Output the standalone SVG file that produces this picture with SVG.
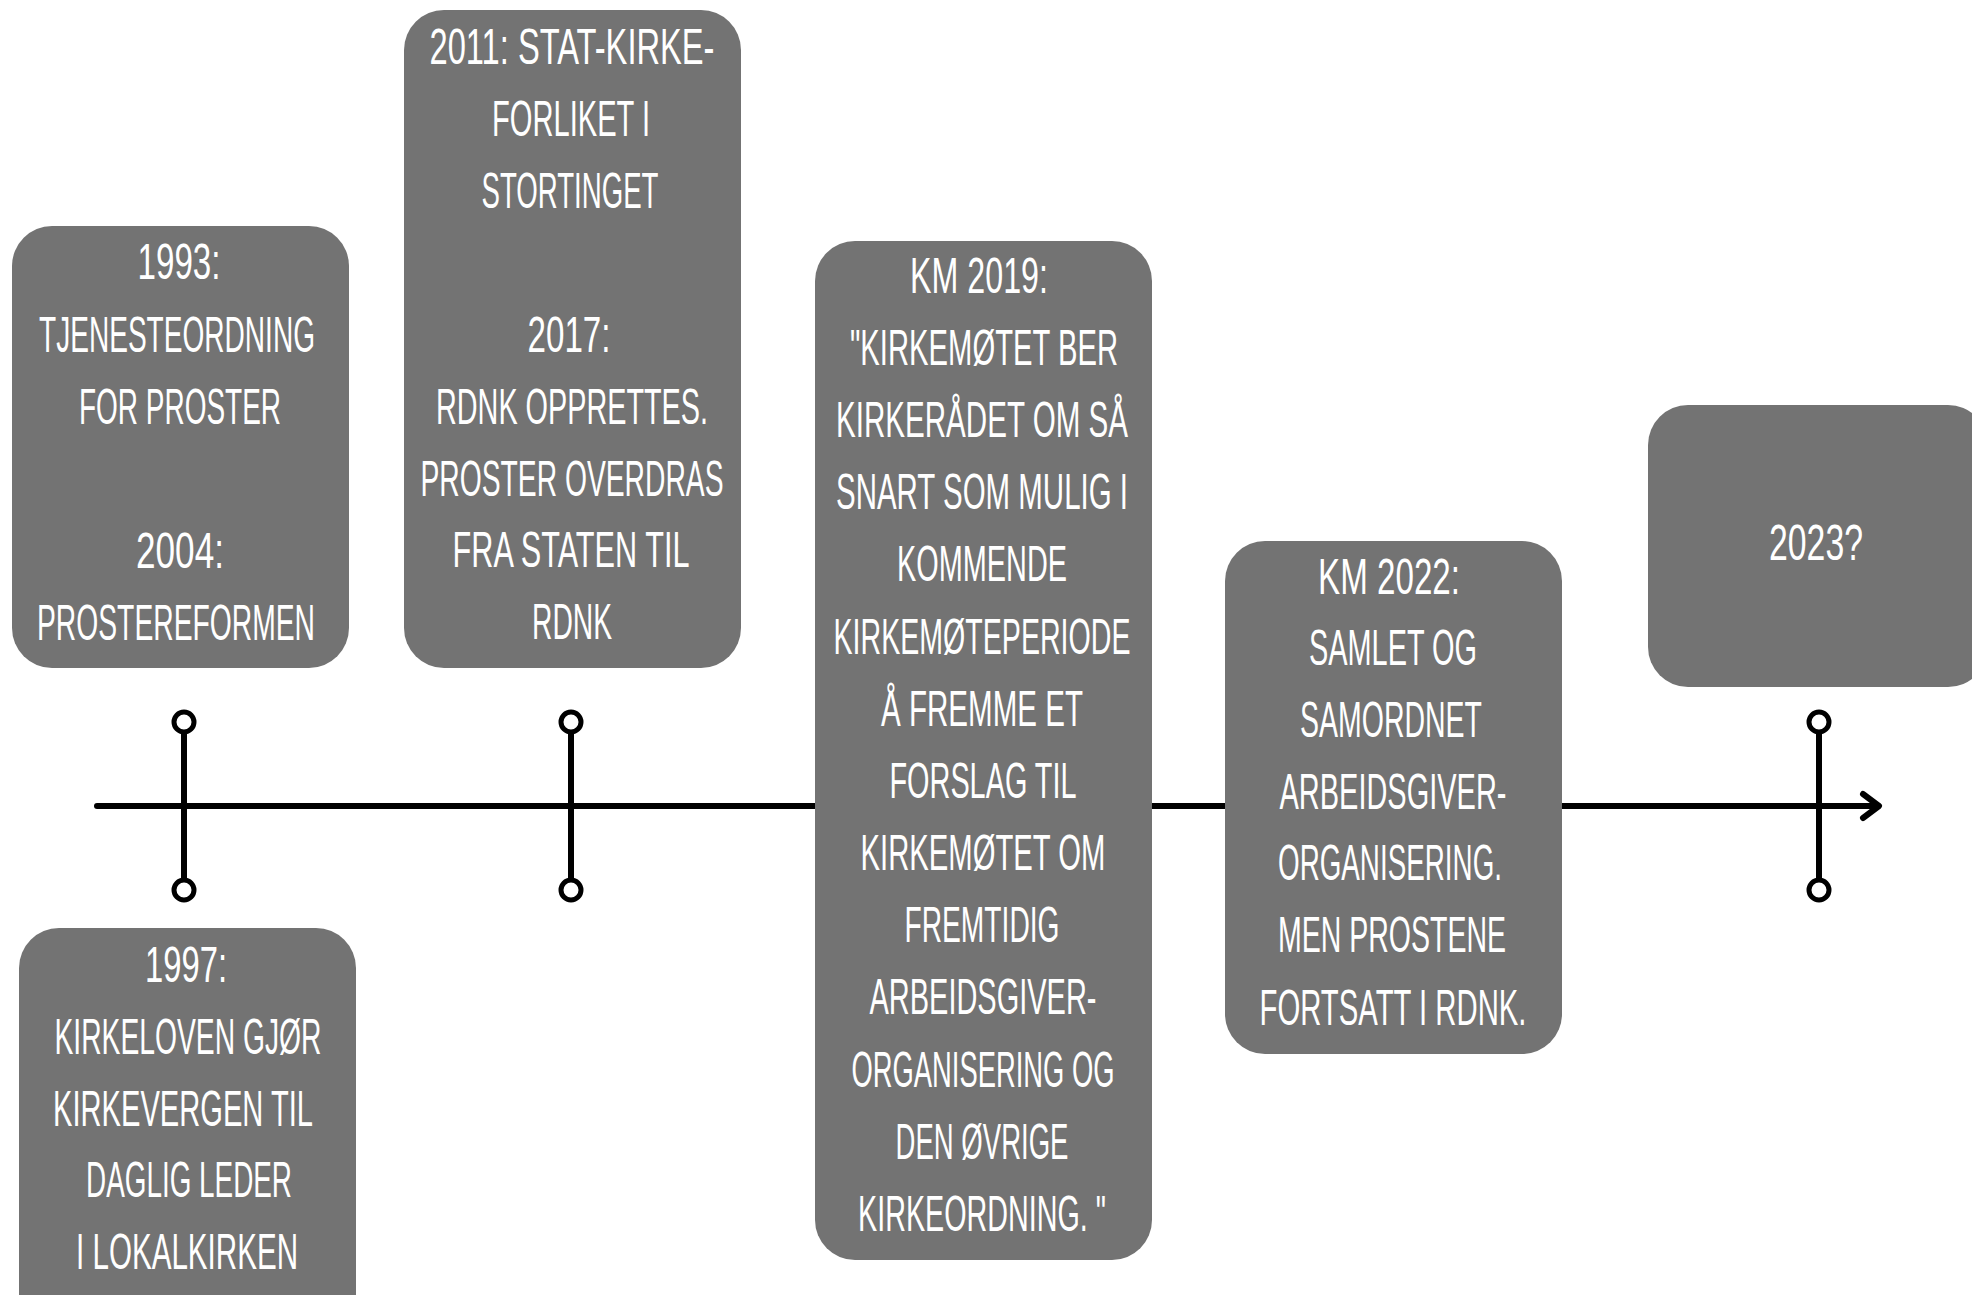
<svg xmlns="http://www.w3.org/2000/svg" width="1972" height="1295" viewBox="0 0 1972 1295">
<style>
  .box { fill: #737373; }
  .t { font-family: "Liberation Sans", Arial, sans-serif; font-size: 50px; fill: #ffffff; text-anchor: middle; }
  .ln { stroke: #000; stroke-width: 6; fill: none; stroke-linecap: round; stroke-linejoin: round; }
  .dot { stroke: #000; stroke-width: 5; fill: #fff; }
</style>
<rect width="1972" height="1295" fill="#ffffff"/>
<g id="connectors">
  <line class="ln" x1="97" y1="806" x2="1878" y2="806"/>
  <polyline class="ln" points="1863,794 1879,806 1863,818"/>
  <line class="ln" x1="184" y1="722" x2="184" y2="890"/>
  <circle class="dot" cx="184" cy="722" r="10"/>
  <circle class="dot" cx="184" cy="890" r="10"/>
  <line class="ln" x1="571" y1="722" x2="571" y2="890"/>
  <circle class="dot" cx="571" cy="722" r="10"/>
  <circle class="dot" cx="571" cy="890" r="10"/>
  <line class="ln" x1="1819" y1="722" x2="1819" y2="890"/>
  <circle class="dot" cx="1819" cy="722" r="10"/>
  <circle class="dot" cx="1819" cy="890" r="10"/>
</g>
<g id="node-1993">
  <rect class="box" x="12" y="226" width="337" height="442" rx="40"/>
  <text class="t" x="179" y="279" textLength="83" lengthAdjust="spacingAndGlyphs">1993:</text>
  <text class="t" x="177" y="352" textLength="276" lengthAdjust="spacingAndGlyphs">TJENESTEORDNING</text>
  <text class="t" x="180" y="424" textLength="202" lengthAdjust="spacingAndGlyphs">FOR PROSTER</text>
  <text class="t" x="180" y="568" textLength="88" lengthAdjust="spacingAndGlyphs">2004:</text>
  <text class="t" x="176" y="640" textLength="278" lengthAdjust="spacingAndGlyphs">PROSTEREFORMEN</text>
</g>
<g id="node-2011">
  <rect class="box" x="404" y="10" width="337" height="658" rx="40"/>
  <text class="t" x="572" y="64" textLength="285" lengthAdjust="spacingAndGlyphs">2011: STAT-KIRKE-</text>
  <text class="t" x="571" y="136" textLength="158" lengthAdjust="spacingAndGlyphs">FORLIKET I</text>
  <text class="t" x="570" y="208" textLength="177" lengthAdjust="spacingAndGlyphs">STORTINGET</text>
  <text class="t" x="569" y="352" textLength="83" lengthAdjust="spacingAndGlyphs">2017:</text>
  <text class="t" x="572" y="424" textLength="272" lengthAdjust="spacingAndGlyphs">RDNK OPPRETTES.</text>
  <text class="t" x="572" y="496" textLength="303" lengthAdjust="spacingAndGlyphs">PROSTER OVERDRAS</text>
  <text class="t" x="571" y="567" textLength="237" lengthAdjust="spacingAndGlyphs">FRA STATEN TIL</text>
  <text class="t" x="572" y="639" textLength="80" lengthAdjust="spacingAndGlyphs">RDNK</text>
</g>
<g id="node-1997">
  <rect class="box" x="19" y="928" width="337" height="420" rx="40"/>
  <text class="t" x="186" y="982" textLength="82" lengthAdjust="spacingAndGlyphs">1997:</text>
  <text class="t" x="188" y="1054" textLength="267" lengthAdjust="spacingAndGlyphs">KIRKELOVEN GJØR</text>
  <text class="t" x="183" y="1126" textLength="260" lengthAdjust="spacingAndGlyphs">KIRKEVERGEN TIL</text>
  <text class="t" x="189" y="1197" textLength="206" lengthAdjust="spacingAndGlyphs">DAGLIG LEDER</text>
  <text class="t" x="187" y="1269" textLength="222" lengthAdjust="spacingAndGlyphs">I LOKALKIRKEN</text>
</g>
<g id="node-km2019">
  <rect class="box" x="815" y="241" width="337" height="1019" rx="40"/>
  <text class="t" x="979" y="293" textLength="138" lengthAdjust="spacingAndGlyphs">KM 2019:</text>
  <text class="t" x="984" y="365" textLength="268" lengthAdjust="spacingAndGlyphs">"KIRKEMØTET BER</text>
  <text class="t" x="982" y="437" textLength="292" lengthAdjust="spacingAndGlyphs">KIRKERÅDET OM SÅ</text>
  <text class="t" x="982" y="509" textLength="292" lengthAdjust="spacingAndGlyphs">SNART SOM MULIG I</text>
  <text class="t" x="982" y="581" textLength="170" lengthAdjust="spacingAndGlyphs">KOMMENDE</text>
  <text class="t" x="982" y="654" textLength="297" lengthAdjust="spacingAndGlyphs">KIRKEMØTEPERIODE</text>
  <text class="t" x="982" y="726" textLength="202" lengthAdjust="spacingAndGlyphs">Å FREMME ET</text>
  <text class="t" x="983" y="798" textLength="187" lengthAdjust="spacingAndGlyphs">FORSLAG TIL</text>
  <text class="t" x="983" y="870" textLength="245" lengthAdjust="spacingAndGlyphs">KIRKEMØTET OM</text>
  <text class="t" x="982" y="942" textLength="155" lengthAdjust="spacingAndGlyphs">FREMTIDIG</text>
  <text class="t" x="983" y="1014" textLength="227" lengthAdjust="spacingAndGlyphs">ARBEIDSGIVER-</text>
  <text class="t" x="983" y="1087" textLength="263" lengthAdjust="spacingAndGlyphs">ORGANISERING OG</text>
  <text class="t" x="982" y="1159" textLength="173" lengthAdjust="spacingAndGlyphs">DEN ØVRIGE</text>
  <text class="t" x="982" y="1231" textLength="248" lengthAdjust="spacingAndGlyphs">KIRKEORDNING. "</text>
</g>
<g id="node-km2022">
  <rect class="box" x="1225" y="541" width="337" height="513" rx="40"/>
  <text class="t" x="1389" y="594" textLength="142" lengthAdjust="spacingAndGlyphs">KM 2022:</text>
  <text class="t" x="1393" y="665" textLength="168" lengthAdjust="spacingAndGlyphs">SAMLET OG</text>
  <text class="t" x="1391" y="737" textLength="182" lengthAdjust="spacingAndGlyphs">SAMORDNET</text>
  <text class="t" x="1393" y="809" textLength="227" lengthAdjust="spacingAndGlyphs">ARBEIDSGIVER-</text>
  <text class="t" x="1390" y="880" textLength="224" lengthAdjust="spacingAndGlyphs">ORGANISERING.</text>
  <text class="t" x="1392" y="952" textLength="228" lengthAdjust="spacingAndGlyphs">MEN PROSTENE</text>
  <text class="t" x="1393" y="1025" textLength="267" lengthAdjust="spacingAndGlyphs">FORTSATT I RDNK.</text>
</g>
<g id="node-2023">
  <rect class="box" x="1648" y="405" width="340" height="282" rx="40"/>
  <text class="t" x="1816" y="560" textLength="94" lengthAdjust="spacingAndGlyphs">2023?</text>
</g>
</svg>
